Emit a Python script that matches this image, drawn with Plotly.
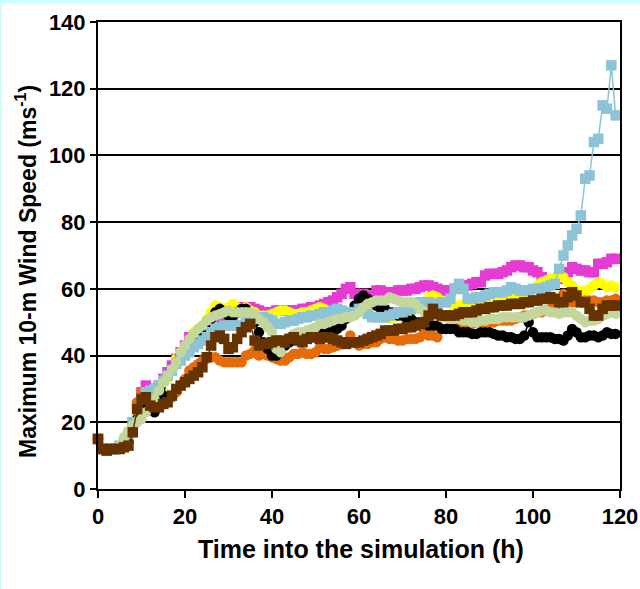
import plotly.graph_objects as go

hours = list(range(0, 120))

black = [15, 12, 12, 12, 12, 12.5, 13, 14, 17, 21,
         24, 26, 25, 23, 25, 28, 34, 36, 38, 40,
         42, 44, 45, 46, 47, 49, 51, 53, 54, 53,
         52, 52, 53, 54, 54, 52, 50, 47, 44, 42,
         40, 40, 41, 43, 44, 45, 46, 46, 46.5, 47,
         47, 47.5, 48, 48, 48, 48, 49, 51, 52, 55,
         57, 58, 57, 56, 55, 54, 54, 53, 53, 52,
         52, 51, 51, 50, 50, 50, 49, 49, 49, 48,
         48, 48, 48, 47, 47, 47, 46.5, 46.5, 47, 47,
         47, 46.5, 46, 46, 45.5, 45.5, 45, 45, 46, 50,
         47, 45.5, 45.5, 45.5, 45.5, 45, 45, 44.5, 46, 48,
         47, 45.5, 45.5, 46, 46, 45.5, 46, 47, 46.5, 46.5]

orange = [15, 12, 12, 12, 12, 12.5, 13.5, 16, 20, 26,
          29, 29, 28, 27, 26, 25.5, 26, 27.5, 29, 31,
          33, 35.5, 36.5, 37.5, 38.5, 39, 39.5, 39.5, 38.5, 38,
          38, 38, 38, 38, 40, 40.5, 41.5, 40, 40.5, 40,
          39.5, 39, 38.5, 38.5, 39.5, 40.5, 40.5, 41, 40.5, 40.5,
          41, 42.5, 42, 42, 42.5, 43, 43.5, 44, 46, 44,
          43, 43.5, 43.5, 44, 44, 45, 45.5, 45, 45, 44.5,
          44.5, 45, 45, 45, 45.5, 47, 46, 46, 45.5, 48,
          48, 48.5, 49, 49, 49, 49.5, 49.5, 50, 50, 50,
          50, 50, 50.5, 50.5, 50.5, 50.5, 51, 51.5, 52, 52,
          52.5, 53, 53, 53.5, 54, 54.5, 57, 58.5, 57, 56,
          56, 56, 56.5, 56.5, 56.5, 56, 56, 56.5, 56.5, 57]

yellow = [15, 12, 12, 12, 12, 12.5, 13.5, 15, 18, 22,
          25, 27, 27, 26, 27, 29, 33, 36, 39, 41,
          43, 44, 47, 48, 49, 51, 53, 55, 54.5, 54,
          54.5, 55.5, 54.5, 54, 54.5, 53.5, 53, 52, 52, 52,
          52.5, 53, 53.5, 53.5, 53, 52.5, 52.5, 53, 53, 53.5,
          54, 54.5, 54, 53, 53, 53, 52.5, 52.5, 53, 54,
          55, 55.5, 55, 54, 53, 52, 51.5, 51, 51.5, 52,
          52, 52.5, 53, 54, 55, 56, 57.5, 58, 57.5, 56.5,
          56, 55.5, 55, 55, 55.5, 56, 56, 56, 56.5, 56,
          56, 56, 56, 56.5, 57, 57.5, 58, 58.5, 59, 59.5,
          60, 61, 62, 62.5, 63, 63.5, 63.5, 63.5, 62, 61,
          59.5, 59, 59.5, 60, 61, 62, 61.5, 60.5, 61, 60.5]

magenta = [15, 12, 12, 12, 12, 12.5, 14, 16, 20, 25,
           29, 31, 30, 30, 31, 33, 35, 37, 39, 41,
           43, 45.5, 46, 47, 48, 49, 50, 51, 52, 51,
           50, 50, 53, 54.5, 54.5, 54.5, 54, 53.5, 53, 53,
           53, 53.5, 53.5, 53.5, 53.5, 53.5, 53.5, 54, 54, 54.5,
           54.5, 55, 55.5, 56, 56.5, 57.5, 58.5, 60, 60.5, 58.5,
           58, 58.5, 57.5, 58, 59.5, 59.5, 59, 59, 59, 59.5,
           59.5, 59.5, 60, 60, 60.5, 61, 61, 60.5, 60, 59.5,
           59.5, 59.5, 60, 60.5, 61, 61, 61.5, 62, 62, 64,
           64.5, 64.5, 64.5, 65, 65.5, 66.5, 67, 67, 66.5, 66.5,
           65.5, 65, 63.5, 62.5, 62, 62.5, 63, 63.5, 65, 66.5,
           66, 65.5, 65.5, 65, 65, 67.5, 67.5, 68, 69, 69]

lightblue = [15, 12, 12, 12, 12, 13, 14, 16.5, 20, 24,
             27, 29, 29.5, 30, 31, 32.5, 34, 35.5, 37.5, 38.5,
             40, 41, 42.5, 43.5, 44.5, 45.5, 47, 48, 48.5, 49,
             49, 49, 49, 49, 50, 50.5, 51, 51.5, 51.5, 51,
             50.5, 49.5, 49.5, 50, 50.5, 50.5, 51, 51.5, 51.5, 52,
             52, 52.5, 53, 53, 53.5, 54, 53.5, 53, 53, 53,
             54, 54, 52.5, 51.5, 51.5, 51.5, 51.5, 52, 52.5, 53,
             53, 53.5, 54, 55, 56, 56, 56, 55.5, 55.5, 56,
             56, 57, 60, 61.5, 60, 57, 57, 57.5, 57.5, 58,
             58.5, 59, 59, 59, 59.5, 60.5, 60, 59.5, 59.5, 59.5,
             60, 60, 60, 60.5, 61, 61.5, 66, 70, 73, 76,
             78, 82, 93, 94, 104, 105, 115, 114, 127, 112]

brown = [15, 12, 11.5, 12, 12, 12, 12.5, 13, 17, 24,
         27, 27.5, 25, 24.5, 24.5, 25.5, 26, 28, 30, 31,
         32, 33, 34, 35, 36.5, 39.5, 43, 45.5, 46, 45,
         42, 42.5, 45, 47, 48.5, 49.5, 44.5, 43, 43.5, 43.5,
         44, 44.5, 44.5, 44, 45, 45.5, 44.5, 44, 45, 45.5,
         45.5, 45, 45.5, 45.5, 45, 44.5, 44, 43.5, 44, 44,
         44, 44.5, 45, 45.5, 46, 46.5, 47.5, 47.5, 47.5, 48,
         48, 48.5, 48.5, 49, 49.5, 50, 52, 54, 52.5, 52,
         52, 52, 52, 52.5, 53, 53, 53, 53.5, 54, 54,
         54.5, 54.5, 55, 55, 55, 55.5, 55.5, 55.5, 56, 56,
         56.5, 56.5, 57, 57, 57.5, 57, 56, 56, 57.5, 59,
         58, 56, 56, 54, 52, 52, 54, 55, 55, 55]

green = [15, 12, 12, 12, 12, 13, 15.5, 17.5, 19, 20,
         21, 23, 25, 27, 29.5, 32, 34, 36, 38, 41,
         43, 45, 46.5, 48, 49, 50.5, 51.5, 52, 52.5, 53,
         53.5, 53, 53, 53, 53, 53, 52.5, 51, 50, 48.5,
         47, 42, 41, 44, 45.5, 46.5, 47, 47, 47.5, 48,
         48.5, 49.5, 49.5, 50, 50.5, 51, 51, 51.5, 51.5, 52,
         53, 54.5, 55.5, 56, 56.5, 56.5, 56.5, 57.5, 57, 56.5,
         56, 56, 56, 55.5, 54, 53, 52.5, 52, 52, 51.5,
         51.5, 51, 51, 51, 50.5, 50.5, 50, 50, 50.5, 50.5,
         51, 51, 51, 51.5, 51.5, 51.5, 51.5, 51.5, 51.5, 52,
         52.5, 53, 53.5, 53.5, 53, 53, 52.5, 53, 53, 53,
         52, 51, 50, 50.5, 50.5, 51, 52, 52.5, 53, 52.5]

x_ticks = [0, 20, 40, 60, 80, 100, 120]
y_ticks = [0, 20, 40, 60, 80, 100, 120, 140]

series = [
    ("magenta", magenta, "#E53BD3", "square"),
    ("yellow", yellow, "#FFFF00", "circle"),
    ("orange", orange, "#E46C0A", "circle"),
    ("black", black, "#000000", "circle"),
    ("lightblue", lightblue, "#8DC3D6", "square"),
    ("green", green, "#C3D69B", "circle"),
    ("brown", brown, "#663300", "square"),
]

fig = go.Figure()
for name, vals, col, sym in series:
    fig.add_trace(go.Scatter(
        x=hours, y=vals, mode="lines+markers", name=name,
        line=dict(color=col, width=1.5),
        marker=dict(color=col, symbol=sym, size=10.5, line=dict(width=0)),
        showlegend=False, cliponaxis=False,
    ))

L, R, T, B = 98, 20, 22, 100
PW = 640 - L - R
PH = 589 - T - B

font_fam = "Liberation Sans, Arial, sans-serif"

fig.update_layout(
    width=640, height=589,
    margin=dict(l=L, r=R, t=T, b=B, pad=0, autoexpand=False),
    paper_bgcolor="white", plot_bgcolor="white",
    font=dict(family=font_fam, color="black"),
    xaxis=dict(range=[0, 120], tickvals=x_ticks, ticks="outside", ticklen=7,
               tickwidth=2, tickcolor="black", showline=True, linecolor="black",
               linewidth=2, mirror=True, showgrid=False, zeroline=False,
               automargin=False,
               tickfont=dict(size=22, family=font_fam, weight="bold")),
    yaxis=dict(range=[0, 140], tickvals=y_ticks, ticks="outside", ticklen=6,
               tickwidth=2, tickcolor="black", showline=True, linecolor="black",
               linewidth=2, mirror=True, showgrid=True, gridcolor="black",
               gridwidth=2, zeroline=False, automargin=False,
               tickfont=dict(size=22, family=font_fam, weight="bold")),
    annotations=[
        dict(text="<b>Time into the simulation (h)</b>", xref="paper", yref="paper",
             x=(361 - L) / PW, y=-(549 - T - PH) / PH, showarrow=False,
             xanchor="center", yanchor="middle",
             font=dict(size=25, family=font_fam, color="black")),
        dict(text="<b>Maximum 10-m Wind Speed (ms<sup>-1</sup>)</b>", xref="paper", yref="paper",
             x=-(L - 26) / PW, y=1 - (272 - T) / PH, showarrow=False, textangle=-90,
             xanchor="center", yanchor="middle",
             font=dict(size=23, family=font_fam, color="black")),
    ],
    shapes=[
        dict(type="rect", xref="paper", yref="paper", layer="above",
             x0=-L / PW, x1=1 + R / PW, y0=1 + (T - 3) / PH, y1=1 + T / PH,
             fillcolor="#CCFFFF", line=dict(width=0)),
        dict(type="rect", xref="paper", yref="paper", layer="above",
             x0=-L / PW, x1=-(L - 2) / PW, y0=-B / PH, y1=1 + T / PH,
             fillcolor="#CCFFFF", line=dict(width=0)),
    ],
)

fig.write_html("out.html")
